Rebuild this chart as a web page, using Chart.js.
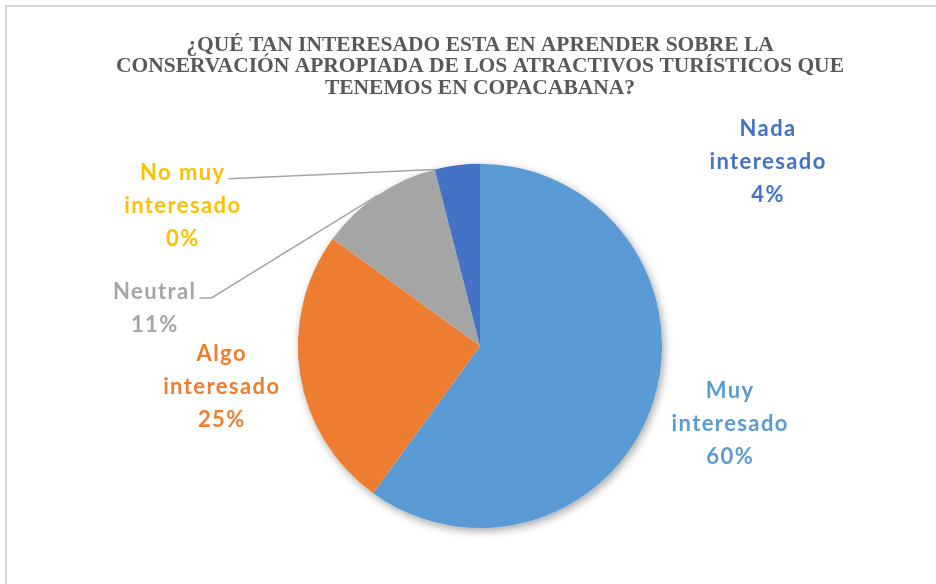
<!DOCTYPE html>
<html>
<head>
<meta charset="utf-8">
<script src="https://cdn.jsdelivr.net/npm/chart.js@4.4.1/dist/chart.umd.min.js"></script>
<style>
  html, body { margin: 0; padding: 0; background: #fff; }
  #wrap { position: relative; width: 936px; height: 584px; overflow: hidden; }
  #frame { position: absolute; left: 5px; top: 5px; width: 1000px; height: 1000px;
           border-left: 2px solid #d9d9d9; border-top: 2px solid #d9d9d9; pointer-events: none; }
</style>
</head>
<body>
<div id="wrap">
  <canvas id="myChart" width="936" height="584"></canvas>
  <div id="frame"></div>
</div>
<script>
// datos de la encuesta
const categories = ["Muy interesado", "Algo interesado", "Neutral", "No muy interesado", "Nada interesado"];
const percentages = [60, 25, 11, 0, 4];
const titleLines = [
  "¿QUÉ TAN INTERESADO ESTA EN APRENDER SOBRE LA",
  "CONSERVACIÓN APROPIADA DE LOS ATRACTIVOS TURÍSTICOS QUE",
  "TENEMOS EN COPACABANA?",
];

const sliceColors = ["#5b9bd5", "#ed7d31", "#a5a5a5", "#ffc000", "#4472c4"];
// posicion de cada etiqueta, en radios desde el centro del pastel
const labelOffsets = [
  [1.374, 0.429],
  [-1.418, 0.225],
  [-1.786, -0.206],
  [-1.632, -0.769],
  [1.582, -1.011],
];
const leaderFor = [false, false, true, true, false];

const labelFont = "bold 22px Lato";
const lineGap = 33;

function splitLabel(s) {
  const words = s.split(" ");
  if (words.length < 2) return [s];
  return [words.slice(0, -1).join(" "), words[words.length - 1]];
}

// sombra bajo el pastel
const pieShadow = {
  id: "pieShadow",
  beforeDatasetsDraw(chart) {
    const arc = chart.getDatasetMeta(0).data[0];
    if (!arc) return;
    const ctx = chart.ctx;
    ctx.save();
    ctx.shadowColor = "rgba(0,0,0,0.35)";
    ctx.shadowBlur = 9;
    ctx.shadowOffsetX = 2;
    ctx.shadowOffsetY = 3;
    ctx.fillStyle = "#fff";
    ctx.beginPath();
    ctx.arc(arc.x, arc.y, arc.outerRadius, 0, Math.PI * 2);
    ctx.fill();
    ctx.restore();
  },
};

// etiquetas con nombre y porcentaje
const pieLabels = {
  id: "pieLabels",
  afterDatasetsDraw(chart) {
    const ctx = chart.ctx;
    const meta = chart.getDatasetMeta(0);
    ctx.save();
    ctx.font = labelFont;
    ctx.letterSpacing = "1.4px";
    ctx.textAlign = "center";
    ctx.textBaseline = "middle";
    meta.data.forEach((arc, i) => {
      const r = arc.outerRadius;
      const lx = arc.x + labelOffsets[i][0] * r;
      const ly = arc.y + labelOffsets[i][1] * r;
      const lines = splitLabel(categories[i]).concat([percentages[i] + "%"]);
      const y0 = ly - ((lines.length - 1) * lineGap) / 2;

      if (leaderFor[i]) {
        const mid = (arc.startAngle + arc.endAngle) / 2;
        const ex = arc.x + Math.cos(mid) * r;
        const ey = arc.y + Math.sin(mid) * r;
        const w = ctx.measureText(lines[0]).width;
        const sx = lx + w / 2 + 3;
        const sy = y0 + 6;
        ctx.strokeStyle = "#a6a6a6";
        ctx.lineWidth = 1.5;
        ctx.beginPath();
        ctx.moveTo(sx, sy);
        if (lines.length === 2) {
          ctx.lineTo(sx + 12, sy);
        }
        ctx.lineTo(ex, ey);
        ctx.stroke();
      }

      ctx.fillStyle = sliceColors[i];
      lines.forEach((t, k) => ctx.fillText(t, lx, y0 + k * lineGap));
    });
    ctx.restore();
  },
};

new Chart(document.getElementById("myChart"), {
  type: "pie",
  data: {
    labels: categories,
    datasets: [
      {
        data: percentages,
        backgroundColor: sliceColors,
        borderWidth: 0,
      },
    ],
  },
  options: {
    responsive: false,
    animation: false,
    layout: { padding: { left: 24, right: 0, top: 0, bottom: 56 } },
    plugins: {
      legend: { display: false },
      tooltip: { enabled: false },
      title: {
        display: true,
        text: titleLines,
        color: "#595959",
        font: { family: "Liberation Serif", weight: "bold", size: 21.5, lineHeight: 1.02 },
        padding: { top: 34, bottom: 64 },
      },
    },
  },
  plugins: [pieShadow, pieLabels],
});
</script>
</body>
</html>
